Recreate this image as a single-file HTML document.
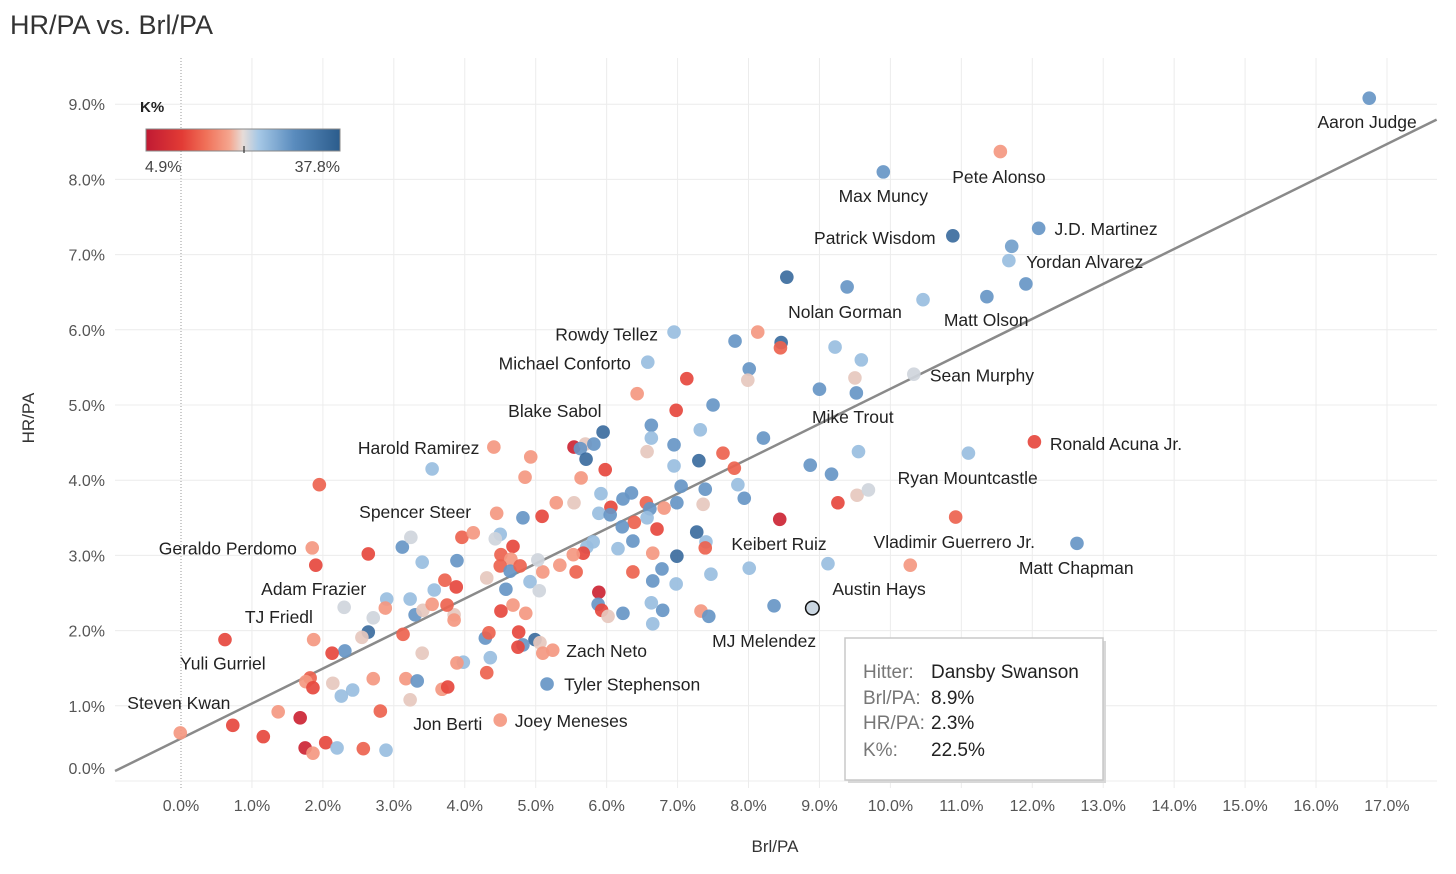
<!DOCTYPE html>
<html><head><meta charset="utf-8">
<style>
html,body{margin:0;padding:0;background:#fff;}
body{width:1456px;height:869px;overflow:hidden;font-family:"Liberation Sans",sans-serif;}
svg text{font-family:"Liberation Sans",sans-serif;}
</style></head>
<body>
<svg id="chart" width="1456" height="869" xmlns="http://www.w3.org/2000/svg">
<text x="10" y="34" font-size="27" fill="#333">HR/PA vs. Brl/PA</text>
<g id="grid"></g>
<g id="xticks"></g>
<g id="yticks"></g>
<line id="trend" stroke="#8a8a8a" stroke-width="2.5"/>
<g id="dots"></g>
<g id="labels"></g>
<text x="775" y="852" font-size="17" fill="#333" text-anchor="middle">Brl/PA</text>
<text x="34" y="418" font-size="17" fill="#333" text-anchor="middle" transform="rotate(-90 34 418)">HR/PA</text>
<g>
<defs><linearGradient id="kgrad" x1="0" x2="1" y1="0" y2="0">
<stop offset="0" stop-color="#c01a33"/><stop offset="0.185" stop-color="#e23b35"/><stop offset="0.307" stop-color="#f07058"/><stop offset="0.43" stop-color="#f5a58e"/><stop offset="0.5" stop-color="#e6dcd8"/><stop offset="0.58" stop-color="#a6c8e6"/><stop offset="0.763" stop-color="#5a8cbe"/><stop offset="1" stop-color="#2b5c8c"/>
</linearGradient></defs>
<text x="140" y="112" font-size="15" font-weight="bold" fill="#222">K%</text>
<rect x="146" y="129" width="194" height="22" fill="url(#kgrad)" stroke="#888" stroke-width="1"/>
<line x1="244" y1="146" x2="244" y2="153" stroke="#333" stroke-width="1.2"/>
<text x="145" y="172" font-size="16" fill="#444">4.9%</text>
<text x="340" y="172" font-size="16" fill="#444" text-anchor="end">37.8%</text>
</g>
<g>
<rect x="848" y="641" width="258" height="142" fill="#d8d8d8"/>
<rect x="845" y="638" width="258" height="142" fill="#fff" stroke="#c8c8c8" stroke-width="1.5"/>
<text x="863" y="678" font-size="19" fill="#777">Hitter:</text><text x="931" y="678" font-size="19" fill="#222">Dansby Swanson</text>
<text x="863" y="704" font-size="19" fill="#777">Brl/PA:</text><text x="931" y="704" font-size="19" fill="#222">8.9%</text>
<text x="863" y="729" font-size="19" fill="#777">HR/PA:</text><text x="931" y="729" font-size="19" fill="#222">2.3%</text>
<text x="863" y="756" font-size="19" fill="#777">K%:</text><text x="931" y="756" font-size="19" fill="#222">22.5%</text>
</g>
</svg>
<script>
const brl=[16.75,11.55,9.90,12.09,10.88,11.71,11.67,8.54,9.39,11.91,11.36,10.46,6.95,8.13,7.81,8.46,8.45,9.22,6.58,9.59,8.01,7.99,7.13,9.50,10.33,9.00,9.52,6.43,7.50,6.98,6.63,6.63,7.32,8.21,5.95,5.54,5.70,5.63,5.71,5.82,6.95,6.95,6.57,7.64,11.10,12.03,9.55,5.98,7.30,7.80,8.87,9.17,3.54,1.95,4.41,4.93,4.85,5.64,6.35,7.05,7.39,7.85,6.23,5.92,5.29,5.54,6.06,6.56,6.99,7.36,7.94,9.53,9.69,9.26,8.44,10.92,12.63,10.28,9.12,5.09,4.82,4.45,6.81,6.61,5.89,6.05,6.57,6.39,6.71,6.22,7.27,7.40,7.39,6.37,5.81,5.72,5.67,5.53,6.16,6.65,6.99,5.34,5.57,5.10,6.37,6.78,6.65,6.98,7.47,8.01,5.89,5.88,5.93,6.02,6.23,6.63,6.79,6.65,7.33,7.44,8.36,4.92,5.05,4.58,4.68,4.51,4.86,4.29,4.76,4.99,4.82,4.75,5.06,5.10,5.24,4.50,4.43,4.68,4.51,4.65,4.50,4.64,4.78,5.03,3.96,4.12,3.12,3.24,1.85,2.64,1.90,3.40,3.89,4.31,3.72,3.88,3.85,3.57,2.90,3.23,2.88,2.30,2.71,3.30,3.41,3.54,3.75,3.85,4.34,3.13,2.64,2.55,2.31,2.13,1.87,0.62,3.40,3.98,3.89,4.36,4.31,1.82,1.76,1.86,2.14,2.26,2.42,2.71,3.17,3.33,3.23,3.68,3.76,2.81,5.16,4.50,1.37,1.68,0.73,-0.01,1.16,1.75,1.86,2.04,2.20,2.57,2.89,8.90];
const hr=[9.08,8.37,8.10,7.35,7.25,7.11,6.92,6.70,6.57,6.61,6.44,6.40,5.97,5.97,5.85,5.83,5.76,5.77,5.57,5.60,5.48,5.33,5.35,5.36,5.41,5.21,5.16,5.15,5.00,4.93,4.73,4.56,4.67,4.56,4.64,4.44,4.48,4.42,4.28,4.48,4.47,4.19,4.38,4.36,4.36,4.51,4.38,4.14,4.26,4.16,4.20,4.08,4.15,3.94,4.44,4.31,4.04,4.03,3.83,3.92,3.88,3.94,3.75,3.82,3.70,3.70,3.64,3.70,3.70,3.68,3.76,3.80,3.87,3.70,3.48,3.51,3.16,2.87,2.89,3.52,3.50,3.56,3.63,3.62,3.56,3.54,3.50,3.44,3.35,3.38,3.31,3.18,3.10,3.19,3.18,3.11,3.03,3.01,3.09,3.03,2.99,2.87,2.78,2.78,2.78,2.82,2.66,2.62,2.75,2.83,2.51,2.35,2.27,2.19,2.23,2.37,2.27,2.09,2.26,2.19,2.33,2.65,2.53,2.55,2.34,2.26,2.23,1.90,1.98,1.88,1.81,1.78,1.84,1.70,1.74,3.28,3.22,3.12,3.01,2.95,2.86,2.79,2.86,2.94,3.24,3.30,3.11,3.24,3.10,3.02,2.87,2.91,2.93,2.70,2.67,2.58,2.21,2.54,2.42,2.42,2.30,2.31,2.17,2.21,2.27,2.35,2.34,2.14,1.97,1.95,1.98,1.91,1.73,1.70,1.88,1.88,1.70,1.58,1.57,1.64,1.44,1.37,1.32,1.24,1.30,1.13,1.21,1.36,1.36,1.33,1.08,1.22,1.25,0.93,1.29,0.81,0.92,0.84,0.74,0.64,0.59,0.44,0.37,0.51,0.44,0.43,0.41,2.30];
const kpct=[29,18,29,29,35,28,25,35,29,29,29,25,25,18,29,35,14,25,25,25,29,20.5,12,20.5,22,29,29,18,29,12,29,25,25,29,35,7,20.5,29,35,29,29,25,20.5,14,25,12,25,12,35,14,29,29,25,14,18,18,18,18,29,29,29,25,29,25,18,20.5,12,14,29,20.5,29,20.5,22,12,7,14,29,18,25,12,29,18,18,29,25,29,25,14,12,29,35,25,14,29,25,25,12,18,25,18,35,18,14,18,14,29,29,25,25,25,7,29,12,20.5,29,25,29,25,18,29,29,25,22,29,18,12,18,29,12,35,29,12,20.5,18,18,25,22,12,14,18,14,29,14,22,14,18,29,22,18,12,12,25,29,20.5,14,12,20.5,25,25,25,18,22,22,29,20.5,18,14,18,14,14,35,20.5,29,12,18,12,20.5,25,18,25,14,14,18,12,20.5,25,25,18,18,29,20.5,18,12,14,29,18,18,7,12,18,12,7,18,12,25,14,25,22.5];
const xTicks=[0,1,2,3,4,5,6,7,8,9,10,11,12,13,14,15,16,17];
const yTicks=[0,1,2,3,4,5,6,7,8,9];
const labelText=["Aaron Judge","Pete Alonso","Max Muncy","J.D. Martinez","Patrick Wisdom","Yordan Alvarez","Nolan Gorman","Matt Olson","Rowdy Tellez","Michael Conforto","Sean Murphy","Blake Sabol","Mike Trout","Ronald Acuna Jr.","Harold Ramirez","Ryan Mountcastle","Spencer Steer","Keibert Ruiz","Vladimir Guerrero Jr.","Geraldo Perdomo","Matt Chapman","Adam Frazier","Austin Hays","TJ Friedl","MJ Melendez","Zach Neto","Yuli Gurriel","Tyler Stephenson","Steven Kwan","Jon Berti","Joey Meneses"];
const labelX=[16.72,11.53,9.90,13.04,9.78,12.74,9.36,11.35,6.00,5.41,11.29,5.27,9.47,13.18,3.35,11.09,3.30,8.43,10.90,0.66,12.62,1.87,9.84,1.38,8.22,6.00,0.59,6.36,-0.03,3.76,5.50];
const labelY=[8.76,8.03,7.78,7.34,7.22,6.90,6.24,6.13,5.94,5.55,5.39,4.92,4.84,4.48,4.43,4.03,3.58,3.15,3.18,3.09,2.83,2.55,2.55,2.18,1.86,1.73,1.56,1.28,1.04,0.76,0.80];
const slope=0.465, intercept=0.565;

const NS="http://www.w3.org/2000/svg";
const X=v=>181+v*70.94;
const Y=v=>781-v*75.2;
function mk(tag,attrs,parent){const e=document.createElementNS(NS,tag);for(const k in attrs)e.setAttribute(k,attrs[k]);parent.appendChild(e);return e;}
const stops=[[4.9,[192,26,51]],[11,[226,59,53]],[15,[240,112,88]],[19,[245,165,142]],[21.3,[222,218,216]],[24,[166,200,230]],[30,[90,140,190]],[37.8,[43,92,140]]];
function kColor(k){k=Math.max(4.9,Math.min(37.8,k));for(let i=0;i<stops.length-1;i++){const a=stops[i],b=stops[i+1];if(k<=b[0]){const t=(k-a[0])/(b[0]-a[0]);const c=a[1].map((v,j)=>Math.round(v+(b[1][j]-v)*t));return `rgb(${c.join(',')})`;}}return 'rgb(43,92,140)';}

const grid=document.getElementById('grid');
xTicks.forEach(t=>{
  const l=mk('line',{x1:X(t),x2:X(t),y1:58,y2:788,stroke:t===0?'#999':'#ececec','stroke-width':1},grid);
  if(t===0)l.setAttribute('stroke-dasharray','1,2');
  
  
  const tx=mk('text',{x:X(t),y:811,'font-size':16,fill:'#555','text-anchor':'middle'},document.getElementById('xticks'));
  tx.textContent=t.toFixed(1)+'%';
  
  
});
yTicks.forEach(t=>{
  const l=mk('line',{x1:115,x2:1437,y1:Y(t),y2:Y(t),stroke:'#ececec','stroke-width':1},grid);
  
  
  const yy=t===0?774:Y(t)+6;
  const tx=mk('text',{x:105,y:yy,'font-size':16,fill:'#555','text-anchor':'end'},document.getElementById('yticks'));
  tx.textContent=t.toFixed(1)+'%';
  
  
});
const tr=document.getElementById('trend');
const x0=-0.93,x1=17.7;
tr.setAttribute('x1',X(x0));tr.setAttribute('y1',Y(intercept+slope*x0));
tr.setAttribute('x2',X(x1));tr.setAttribute('y2',Y(intercept+slope*x1));

const dots=document.getElementById('dots');
for(let i=0;i<brl.length;i++){
  const c=mk('circle',{cx:X(brl[i]),cy:Y(hr[i]),r:6.8,fill:kColor(kpct[i]),'fill-opacity':0.92},dots);
  if(i===brl.length-1){c.setAttribute('stroke','#111');c.setAttribute('stroke-width','1.5');}
  
  
}
const lg=document.getElementById('labels');
for(let i=0;i<labelText.length;i++){
  const t=mk('text',{x:X(labelX[i]),y:Y(labelY[i])+6,'font-size':17.5,fill:'#222','text-anchor':'middle'},lg);
  t.textContent=labelText[i];
  
  
}
</script>
</body></html>
